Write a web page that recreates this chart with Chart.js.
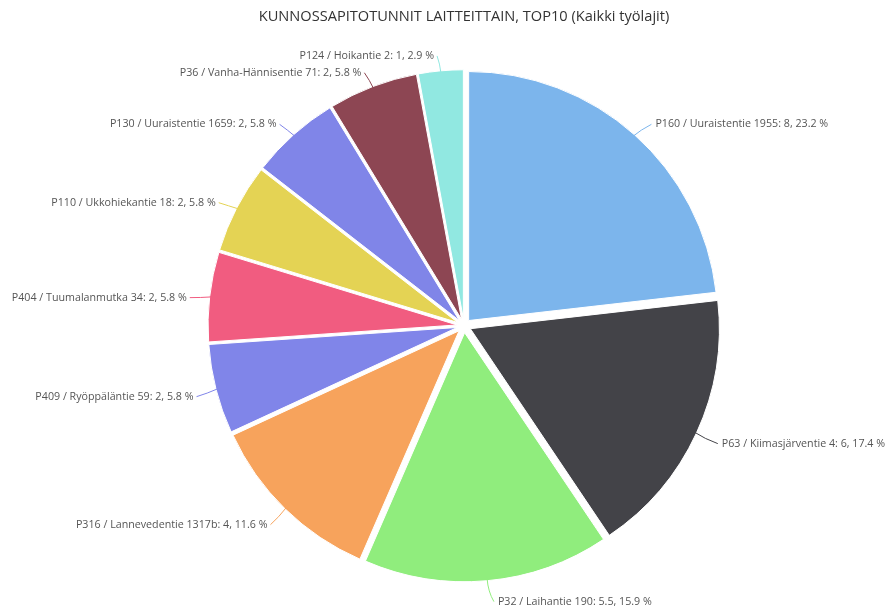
<!DOCTYPE html>
<html>
<head>
<meta charset="utf-8">
<script src="https://cdn.jsdelivr.net/npm/chart.js@4.4.0/dist/chart.umd.min.js"></script>
<style>
  html, body { margin: 0; padding: 0; background: #fff; }
</style>
</head>
<body>
<canvas id="pieChart" width="886" height="606"></canvas>
<script>
// data
const labels = [
    "P160 / Uuraistentie 1955",
    "P63 / Kiimasjärventie 4",
    "P32 / Laihantie 190",
    "P316 / Lannevedentie 1317b",
    "P409 / Ryöppäläntie 59",
    "P404 / Tuumalanmutka 34",
    "P110 / Ukkohiekantie 18",
    "P130 / Uuraistentie 1659",
    "P36 / Vanha-Hännisentie 71",
    "P124 / Hoikantie 2"
];
const hours = [8, 6, 5.5, 4, 2, 2, 2, 2, 2, 1];
const colors = ["#7cb5ec", "#434348", "#90ed7d", "#f7a35c", "#8085e9",
                "#f15c80", "#e4d354", "#8085e8", "#8d4653", "#91e8e1"];

const SLICE_OFFSET = 7;
const LABEL_DIST = 25;

// draw the slices pulled out from the centre (like "sliced" points)
const slicedPlugin = {
    id: "sliced",
    beforeDatasetDraw(chart, args) {
        const ctx = chart.ctx;
        args.meta.data.forEach(arc => {
            const mid = (arc.startAngle + arc.endAngle) / 2;
            ctx.save();
            ctx.translate(Math.cos(mid) * SLICE_OFFSET, Math.sin(mid) * SLICE_OFFSET);
            arc.draw(ctx);
            ctx.restore();
        });
        return false;
    }
};

// data labels with connectors
const labelPlugin = {
    id: "pieLabels",
    afterDatasetsDraw(chart) {
        const ctx = chart.ctx;
        const meta = chart.getDatasetMeta(0);
        const total = hours.reduce((a, b) => a + b, 0);
        ctx.save();
        ctx.font = "10.7px 'Open Sans'";
        ctx.textBaseline = "middle";
        meta.data.forEach((arc, i) => {
            const mid = (arc.startAngle + arc.endAngle) / 2;
            const cos = Math.cos(mid), sin = Math.sin(mid);
            const r = arc.outerRadius;
            const ex = arc.x + cos * (r + SLICE_OFFSET - 2);
            const ey = arc.y + sin * (r + SLICE_OFFSET - 2);
            const bx = arc.x + cos * (r + 16);
            const by = arc.y + sin * (r + 16) + 2;
            const lx = arc.x + cos * (r + LABEL_DIST);
            const ly = arc.y + sin * (r + LABEL_DIST) + 3;
            const right = cos >= 0;
            const tx = lx + (right ? 5 : -2);

            ctx.strokeStyle = colors[i];
            ctx.lineWidth = 1;
            ctx.beginPath();
            ctx.moveTo(ex, ey);
            ctx.quadraticCurveTo(bx, by, tx, ly);
            ctx.stroke();

            const pct = (hours[i] / total * 100).toFixed(1);
            ctx.fillStyle = "#555555";
            ctx.textAlign = right ? "left" : "right";
            ctx.fillText(labels[i] + ": " + hours[i] + ", " + pct + " %", tx + (right ? 4 : -3), ly);
        });
        ctx.restore();
    }
};

new Chart("pieChart", {
    type: "pie",
    data: {
        labels: labels,
        datasets: [{
            data: hours,
            backgroundColor: colors,
            borderColor: "#ffffff",
            borderWidth: 1
        }]
    },
    options: {
        responsive: false,
        animation: false,
        radius: 249,
        layout: {
            padding: { left: 60, right: 18, top: 0, bottom: 0 }
        },
        plugins: {
            title: {
                display: true,
                text: "KUNNOSSAPITOTUNNIT LAITTEITTAIN, TOP10 (Kaikki työlajit)",
                color: "#333333",
                font: { family: "'Open Sans'", size: 14.6, weight: "normal" },
                padding: { top: 8, bottom: 20 }
            },
            legend: { display: false },
            tooltip: { enabled: false }
        }
    },
    plugins: [slicedPlugin, labelPlugin]
});
</script>
</body>
</html>
